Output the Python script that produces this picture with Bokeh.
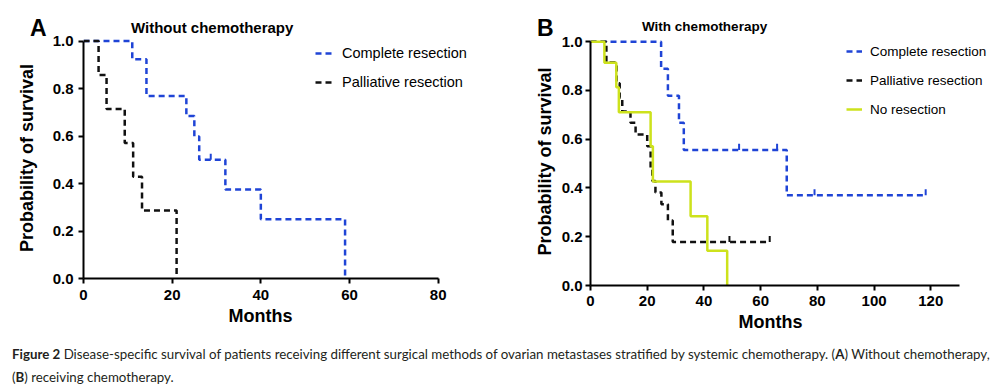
from bokeh.plotting import figure
from bokeh.models import Range1d, FixedTicker, PrintfTickFormatter, Title, Legend, LegendItem, Div
from bokeh.layouts import row, column
from bokeh.embed import file_html
from bokeh.resources import INLINE

# ---------------- data ----------------
# Panel A: without chemotherapy
a_complete_t = [0, 11.0, 14.2, 23.2, 25.0, 26.1, 32.0, 40.0, 59.0]
a_complete_s = [1.0, 0.923, 0.769, 0.684, 0.598, 0.5, 0.375, 0.25, 0.0]
a_complete_cens_t = [28.7]
a_complete_cens_s = [0.5]
a_pall_t = [0, 3.4, 5.2, 9.3, 11.2, 13.2, 21.0]
a_pall_s = [1.0, 0.857, 0.714, 0.571, 0.429, 0.286, 0.0]

# Panel B: with chemotherapy
b_complete_t = [0, 24.9, 27.3, 31.2, 32.9, 69.2, 118.2]
b_complete_s = [1.0, 0.889, 0.778, 0.667, 0.556, 0.370, 0.370]
b_complete_cens_t = [52.4, 65.8, 79.0, 118.2]
b_complete_cens_s = [0.556, 0.556, 0.370, 0.370]
b_pall_t = [0, 5.6, 9.2, 10.3, 11.2, 14.1, 15.9, 20.0, 21.2, 21.8, 22.9, 25.0, 27.3, 29.0, 63.2]
b_pall_s = [1.0, 0.914, 0.829, 0.771, 0.714, 0.667, 0.619, 0.571, 0.476, 0.429, 0.381, 0.333, 0.267, 0.178, 0.178]
b_pall_cens_t = [49.0, 63.2]
b_pall_cens_s = [0.178, 0.178]
b_none_t = [0, 4.9, 9.1, 10.0, 21.2, 22.0, 35.3, 41.2, 48.2]
b_none_s = [1.0, 0.913, 0.813, 0.71, 0.571, 0.426, 0.284, 0.143, 0.0]

a_xticks = [0, 20, 40, 60, 80]
b_xticks = [0, 20, 40, 60, 80, 100, 120]
yticks = [0.0, 0.2, 0.4, 0.6, 0.8, 1.0]

labels_a = ["Complete resection", "Palliative resection"]
labels_b = ["Complete resection", "Palliative resection", "No resection"]
panel_letters = ["A", "B"]
panel_titles = ["Without chemotherapy", "With chemotherapy"]
x_title = "Months"
y_title = "Probability of survival"

BLUE = "#1f44d6"
BLACK = "#111111"
LIME = "#cde21c"
FONT = "Liberation Sans"
DASH = "6 4"
HEAD = 26   # header div height; plots start below with a top border


def span(text, left, top, size):
    return (f'<span style="position:absolute;left:{left}px;top:{top}px;font-size:{size};'
            f'line-height:1;white-space:nowrap">{text}</span>')


header = Div(
    text=('<div style="position:relative;width:998px;height:37px;overflow:visible;'
          'font-family:\'Liberation Sans\';font-weight:bold;color:black">'
          + span(panel_letters[0], 30, 17, "23px")
          + span(panel_titles[0], 131, 20, "15px")
          + span(panel_letters[1], 537, 16.5, "23px")
          + span(panel_titles[1], 642, 20, "13.5px")
          + '</div>'),
    width=998, height=HEAD, margin=(0, 0, 0, 0),
    styles={"overflow": "visible", "z-index": "5", "position": "relative"})


def make_fig(xend, xbound, xticks, fw, fh, ytop, mbl, mbr, mbb, ylab_standoff,
             tick_standoff_y, tick_standoff_x, months_offset):
    p = figure(frame_width=fw, frame_height=fh,
               x_range=Range1d(0, xend), y_range=Range1d(0, ytop),
               output_backend="svg", toolbar_location=None, title=None,
               min_border_left=mbl, min_border_right=mbr,
               min_border_top=37 - HEAD, min_border_bottom=mbb,
               background_fill_color="white", border_fill_color="white",
               border_fill_alpha=0)
    p.grid.visible = False
    p.outline_line_color = None
    p.xaxis.bounds = (0, xbound)
    p.yaxis.bounds = (0, 1)
    p.xaxis.ticker = FixedTicker(ticks=xticks)
    p.yaxis.ticker = FixedTicker(ticks=yticks)
    p.yaxis.formatter = PrintfTickFormatter(format="%.1f")
    for ax in (p.xaxis, p.yaxis):
        ax.axis_line_width = 2
        ax.axis_line_color = "black"
        ax.major_tick_line_width = 2
        ax.major_tick_line_color = "black"
        ax.major_tick_out = 5
        ax.major_tick_in = 0
        ax.minor_tick_out = 0
        ax.minor_tick_in = 0
        ax.major_label_text_font = FONT
        ax.major_label_text_font_style = "bold"
        ax.major_label_text_font_size = "15px"
        ax.major_label_text_color = "black"
    p.yaxis.major_label_standoff = tick_standoff_y
    p.xaxis.major_label_standoff = tick_standoff_x
    p.yaxis.axis_label = y_title
    p.yaxis.axis_label_text_font = FONT
    p.yaxis.axis_label_text_font_style = "bold"
    p.yaxis.axis_label_text_font_size = "18px"
    p.yaxis.axis_label_text_color = "black"
    p.yaxis.axis_label_standoff = ylab_standoff
    p.add_layout(Title(text=x_title, align="left", offset=months_offset, standoff=2,
                       text_font=FONT, text_font_style="bold", text_font_size="18px",
                       text_color="black"), "below")
    return p


def censor(p, ts, ss, color):
    p.segment(x0=ts, y0=ss, x1=ts, y1=[s + 0.025 for s in ss], line_color=color, line_width=2)


# ---------------- panel A ----------------
pa = make_fig(90, 80, a_xticks, 399, 241, 1.015, 83, 23, 57, 13, 5, 6, 145)
ra1 = pa.step(a_complete_t, a_complete_s, mode="after", line_color=BLUE, line_width=2.5, line_dash=DASH)
censor(pa, a_complete_cens_t, a_complete_cens_s, BLUE)
ra2 = pa.step(a_pall_t, a_pall_s, mode="after", line_color=BLACK, line_width=2.5, line_dash=DASH)

leg_a = Legend(items=[LegendItem(label=labels_a[0], renderers=[ra1]),
                      LegendItem(label=labels_a[1], renderers=[ra2])],
               location=(232, 188), padding=0, margin=0, spacing=13,
               glyph_width=18, glyph_height=16, label_height=16, label_standoff=9,
               label_text_font=FONT, label_text_font_size="14.5px", label_text_color="black",
               border_line_color=None, background_fill_alpha=0)
pa.add_layout(leg_a)

# ---------------- panel B ----------------
pb = make_fig(140, 130, b_xticks, 397, 248, 1.017, 85, 11, 50, 4, 3, 5, 148)
rb1 = pb.step(b_complete_t, b_complete_s, mode="after", line_color=BLUE, line_width=2.5, line_dash=DASH)
censor(pb, b_complete_cens_t, b_complete_cens_s, BLUE)
rb2 = pb.step(b_pall_t, b_pall_s, mode="after", line_color=BLACK, line_width=2.5, line_dash=DASH)
censor(pb, b_pall_cens_t, b_pall_cens_s, BLACK)
rb3 = pb.step(b_none_t, b_none_s, mode="after", line_color=LIME, line_width=2.5)

leg_b = Legend(items=[LegendItem(label=labels_b[0], renderers=[rb1]),
                      LegendItem(label=labels_b[1], renderers=[rb2]),
                      LegendItem(label=labels_b[2], renderers=[rb3])],
               location=(256, 168), padding=0, margin=0, spacing=13,
               glyph_width=16, glyph_height=16, label_height=16, label_standoff=8,
               label_text_font=FONT, label_text_font_size="13.5px", label_text_color="black",
               border_line_color=None, background_fill_alpha=0)
pb.add_layout(leg_b)

caption = Div(
    text=('<div style="font-family:Lato;font-size:13.3px;line-height:23px;white-space:nowrap;'
          'color:#231f20;padding:8px 0 0 12px">'
          '<b>Figure 2</b> Disease-specific survival of patients receiving different surgical '
          'methods of ovarian metastases stratified by systemic chemotherapy. '
          '(<b>A</b>) Without chemotherapy,<br>(<b>B</b>) receiving chemotherapy.</div>'),
    width=998, height=54, margin=(0, 0, 0, 0))

layout = column(header, row(pa, pb), caption)
open("out.html", "w").write(file_html(layout, INLINE))
